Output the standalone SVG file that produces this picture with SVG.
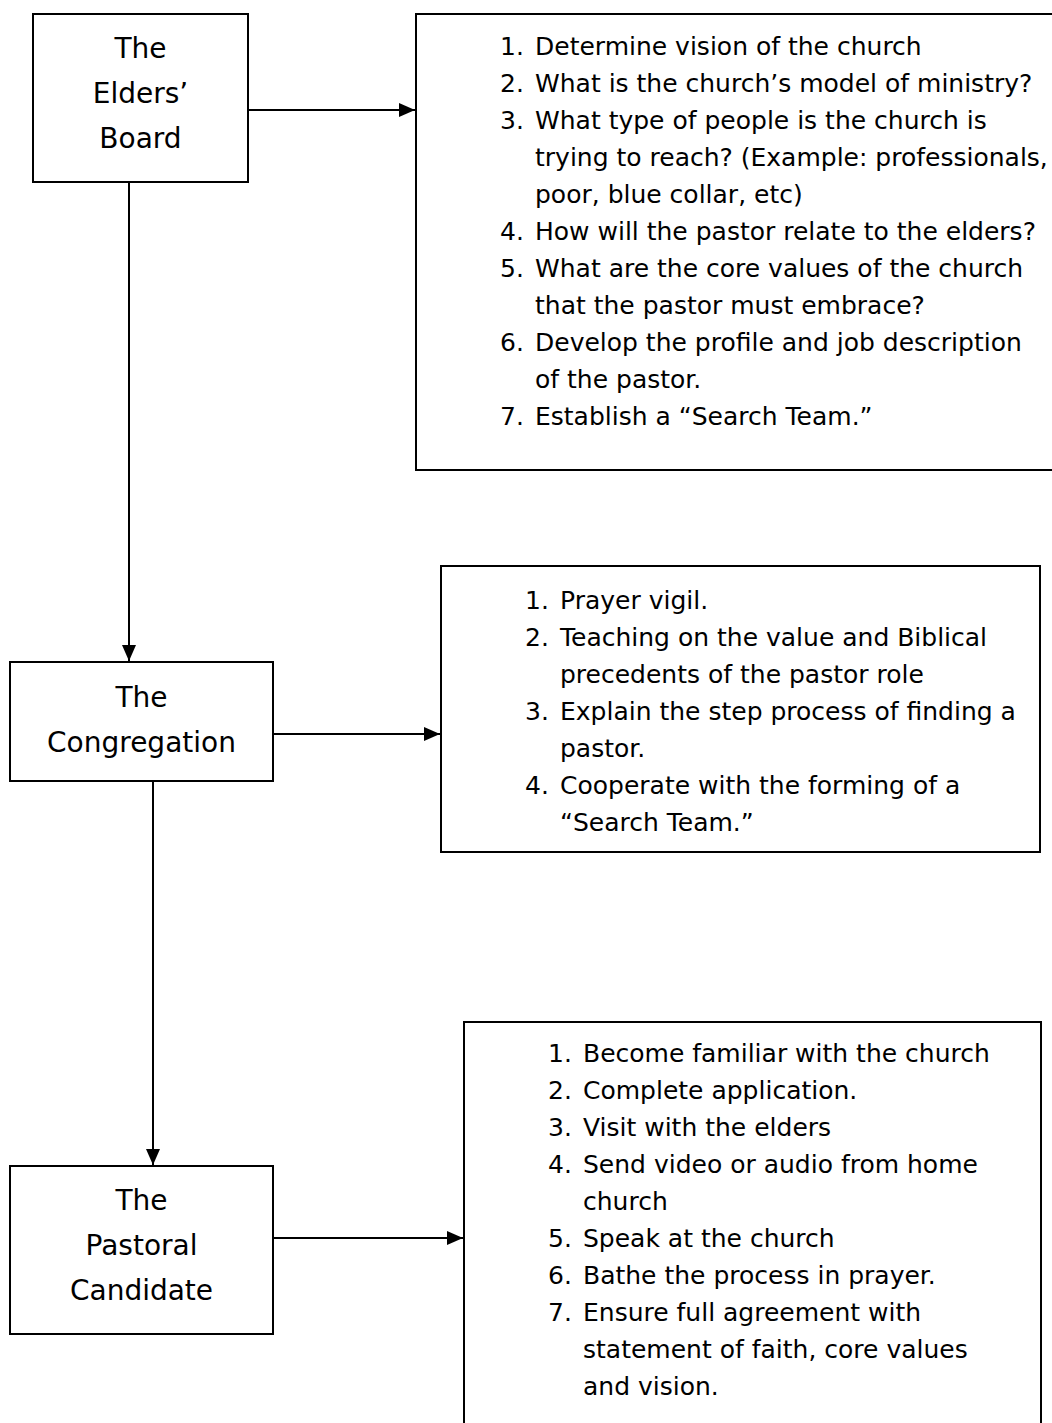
<svg xmlns="http://www.w3.org/2000/svg" width="1052" height="1423" viewBox="0 0 1052 1423">
<defs>
<marker id="ah" markerUnits="userSpaceOnUse" markerWidth="17" markerHeight="16" refX="16" refY="8" orient="auto">
<path d="M0,1 L16,8 L0,15 Z" fill="#000"/>
</marker>
<style>
.box{fill:#fff;stroke:#000;stroke-width:2}
.ttl{font-family:"DejaVu Sans","Liberation Sans",sans-serif;font-size:28px;text-anchor:middle;fill:#000}
.lst{font-family:"DejaVu Sans","Liberation Sans",sans-serif;font-size:25px;fill:#000}
.conn{stroke:#000;stroke-width:2;fill:none}
</style>
</defs>
<rect width="1052" height="1423" fill="#fff"/>
<g id="connectors">
<line class="conn" x1="248" y1="110" x2="415" y2="110" marker-end="url(#ah)"/>
<line class="conn" x1="129" y1="182" x2="129" y2="661" marker-end="url(#ah)"/>
<line class="conn" x1="273" y1="734" x2="440" y2="734" marker-end="url(#ah)"/>
<line class="conn" x1="153" y1="781" x2="153" y2="1165" marker-end="url(#ah)"/>
<line class="conn" x1="273" y1="1238" x2="463" y2="1238" marker-end="url(#ah)"/>
</g>
<g id="elders">
<rect class="box" x="33" y="14" width="215" height="168"/>
<text class="ttl" x="140.5" y="58">The</text>
<text class="ttl" x="140.5" y="103">Elders’</text>
<text class="ttl" x="140.5" y="148">Board</text>
</g>
<g id="elders-list">
<rect class="box" x="416" y="14" width="660" height="456"/>
<g class="lst">
<text x="500" y="55">1.</text><text x="535" y="55">Determine vision of the church</text>
<text x="500" y="92">2.</text><text x="535" y="92">What is the church’s model of ministry?</text>
<text x="500" y="129">3.</text><text x="535" y="129">What type of people is the church is</text>
<text x="535" y="166">trying to reach? (Example: professionals,</text>
<text x="535" y="203">poor, blue collar, etc)</text>
<text x="500" y="240">4.</text><text x="535" y="240">How will the pastor relate to the elders?</text>
<text x="500" y="277">5.</text><text x="535" y="277">What are the core values of the church</text>
<text x="535" y="314">that the pastor must embrace?</text>
<text x="500" y="351">6.</text><text x="535" y="351">Develop the profile and job description</text>
<text x="535" y="388">of the pastor.</text>
<text x="500" y="425">7.</text><text x="535" y="425">Establish a “Search Team.”</text>
</g>
</g>
<g id="congregation">
<rect class="box" x="10" y="662" width="263" height="119"/>
<text class="ttl" x="141.5" y="707">The</text>
<text class="ttl" x="141.5" y="752">Congregation</text>
</g>
<g id="congregation-list">
<rect class="box" x="441" y="566" width="599" height="286"/>
<g class="lst">
<text x="525" y="609">1.</text><text x="560" y="609">Prayer vigil.</text>
<text x="525" y="646">2.</text><text x="560" y="646">Teaching on the value and Biblical</text>
<text x="560" y="683">precedents of the pastor role</text>
<text x="525" y="720">3.</text><text x="560" y="720">Explain the step process of finding a</text>
<text x="560" y="757">pastor.</text>
<text x="525" y="794">4.</text><text x="560" y="794">Cooperate with the forming of a</text>
<text x="560" y="831">“Search Team.”</text>
</g>
</g>
<g id="candidate">
<rect class="box" x="10" y="1166" width="263" height="168"/>
<text class="ttl" x="141.5" y="1210">The</text>
<text class="ttl" x="141.5" y="1255">Pastoral</text>
<text class="ttl" x="141.5" y="1300">Candidate</text>
</g>
<g id="candidate-list">
<rect class="box" x="464" y="1022" width="577" height="430"/>
<g class="lst">
<text x="548" y="1062">1.</text><text x="583" y="1062">Become familiar with the church</text>
<text x="548" y="1099">2.</text><text x="583" y="1099">Complete application.</text>
<text x="548" y="1136">3.</text><text x="583" y="1136">Visit with the elders</text>
<text x="548" y="1173">4.</text><text x="583" y="1173">Send video or audio from home</text>
<text x="583" y="1210">church</text>
<text x="548" y="1247">5.</text><text x="583" y="1247">Speak at the church</text>
<text x="548" y="1284">6.</text><text x="583" y="1284">Bathe the process in prayer.</text>
<text x="548" y="1321">7.</text><text x="583" y="1321">Ensure full agreement with</text>
<text x="583" y="1358">statement of faith, core values</text>
<text x="583" y="1395">and vision.</text>
</g>
</g>
</svg>
